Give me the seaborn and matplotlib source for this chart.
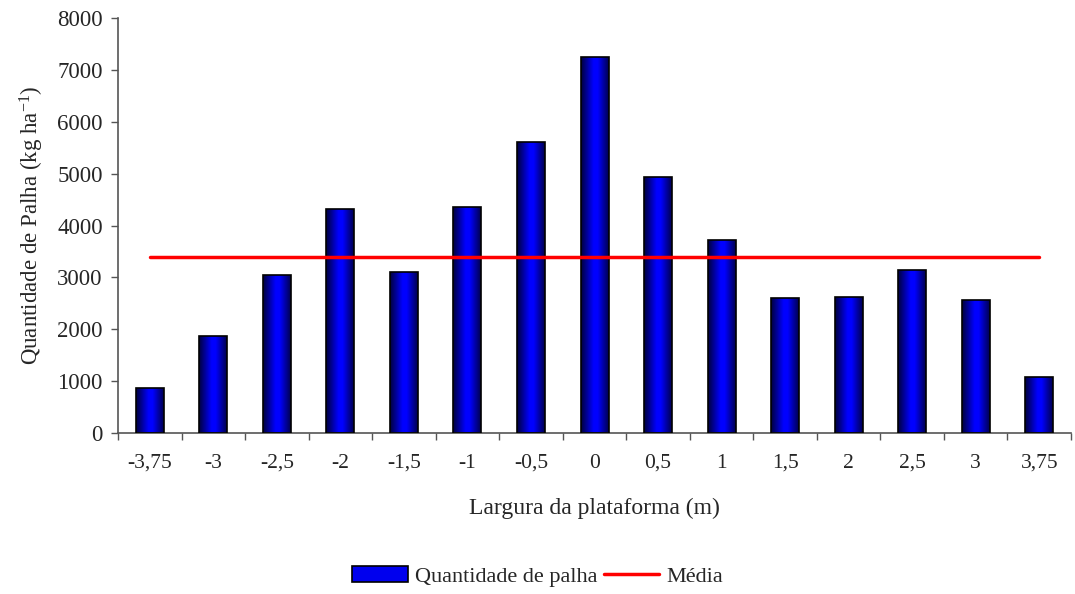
import numpy as np
import pandas as pd
import matplotlib
matplotlib.use("Agg")
import matplotlib.pyplot as plt
from matplotlib.colors import LinearSegmentedColormap
from matplotlib.patches import Patch
from matplotlib.lines import Line2D
import seaborn as sns

# data
largura = ["-3,75", "-3", "-2,5", "-2", "-1,5", "-1", "-0,5", "0",
           "0,5", "1", "1,5", "2", "2,5", "3", "3,75"]
palha = [870, 1870, 3045, 4316, 3100, 4355, 5607, 7245,
         4933, 3719, 2601, 2620, 3140, 2563, 1080]
media = [3400] * len(largura)

sns.set_theme(style="white")
plt.rcParams["font.family"] = ["Liberation Serif", "DejaVu Serif"]
plt.rcParams["mathtext.fontset"] = "custom"
plt.rcParams["mathtext.rm"] = "Liberation Serif"
plt.rcParams["mathtext.it"] = "Liberation Serif:italic"

df = pd.DataFrame({"largura": largura, "palha": palha})

fig = plt.figure(figsize=(10.75, 5.94), dpi=100)
ax = fig.add_axes([0.1098, 0.271, 0.8865, 0.6987])

sns.barplot(data=df, x="largura", y="palha", order=largura, color="#0000ff",
            width=0.44, edgecolor="black", linewidth=1.2, ax=ax, zorder=2)

# horizontal gradient inside bars (dark edges, bright blue centre)
grad_cmap = LinearSegmentedColormap.from_list(
    "barra", [(0.0, "#000040"), (0.45, "#0000ff"), (0.6, "#0000ff"), (1.0, "#000050")])
grad = np.linspace(0, 1, 64).reshape(1, -1)
for p in ax.patches:
    x0, y0 = p.get_x(), p.get_y()
    w, h = p.get_width(), p.get_height()
    im = ax.imshow(grad, cmap=grad_cmap, aspect="auto",
                   extent=[x0, x0 + w, y0, y0 + h], zorder=2.5)
    im.set_clip_path(p)
    p.set_facecolor("none")
    p.set_zorder(3)

sns.lineplot(x=np.arange(len(largura)), y=media, color="red", linewidth=2.5,
             ax=ax, zorder=4)

ax.set_xlim(-0.5, len(largura) - 0.5)
ax.set_ylim(0, 8000)
ax.set_yticks(range(0, 8001, 1000))
ax.set_xticks(np.arange(len(largura)))
ax.set_xticklabels(largura)
ax.set_xticks(np.arange(-0.5, len(largura), 1), minor=True)
ax.tick_params(axis="x", which="major", length=0, pad=15, labelsize=15.5)
ax.tick_params(axis="x", which="minor", length=5, width=1, color="#555555",
               direction="out", bottom=True)
ax.tick_params(axis="y", length=5, width=1, color="#555555", direction="out",
               left=True, labelsize=16.5, pad=6)

for s in ["top", "right"]:
    ax.spines[s].set_visible(False)
for s in ["left", "bottom"]:
    ax.spines[s].set_color("#555555")
    ax.spines[s].set_linewidth(1.2)

ax.set_xlabel("Largura da plataforma (m)", fontsize=17, labelpad=18)
ax.set_ylabel("Quantidade de Palha (kg ha$^{\\mathregular{-1}}$)", fontsize=16.5,
              labelpad=8)

handles = [Patch(facecolor="#0000ee", edgecolor="black", linewidth=1.2),
           Line2D([0], [0], color="red", linewidth=2.5)]
fig.legend(handles, ["Quantidade de palha", "Média"], loc="center",
           bbox_to_anchor=(0.5, 0.029), ncol=2, frameon=False, fontsize=16,
           handlelength=2.5, handletextpad=0.3, columnspacing=0.3)

fig.savefig("out.png", dpi=100)
